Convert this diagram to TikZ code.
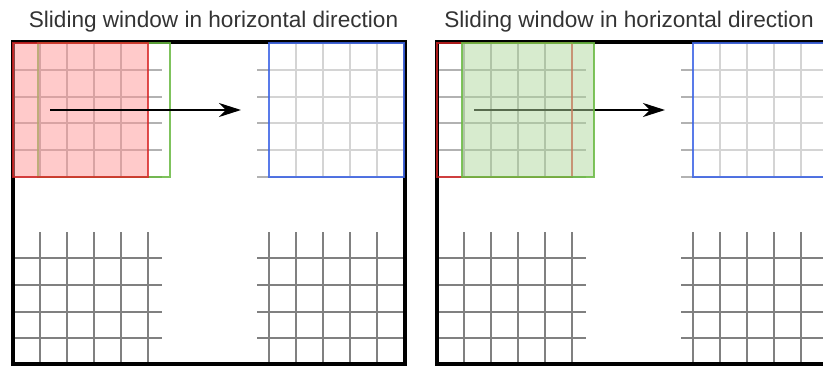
\documentclass[tikz,border=0pt]{standalone}
\usepackage{fontspec}
\setmainfont{Liberation Sans}
\usetikzlibrary{arrows.meta}
\definecolor{winred}{RGB}{215,35,35}
\definecolor{redtint}{RGB}{255,150,150}
\definecolor{wingreen}{RGB}{105,185,65}
\definecolor{greentint}{RGB}{176,215,157}
\definecolor{winblue}{RGB}{60,100,230}
\begin{document}
\begin{tikzpicture}[x=1pt,y=-1pt,
    frame/.style={line width=3.5pt},
    lightgrid/.style={black!30,line width=1.5pt},
    darkgrid/.style={black!50,line width=1.8pt},
    redwin/.style={draw=winred,draw opacity=0.8,line width=2.5pt},
    greenwin/.style={draw=wingreen,draw opacity=0.85,line width=2.5pt},
    bluewin/.style={draw=winblue,draw opacity=0.85,line width=2.5pt,fill=white,fill opacity=0.45},
    slide/.style={line width=2.2pt,-{Stealth[length=22pt,width=14pt,inset=7pt]}},
    title/.style={anchor=base,font=\fontsize{22.6}{26}\selectfont,text=black!80}]
    \useasboundingbox (0,0) rectangle (823,367);
    \clip (0,0) rectangle (823,367);

    \node[title] (ltitle) at (213.5,27) {Sliding window in horizontal direction};
    \node[title] (rtitle) at (629,27)   {Sliding window in horizontal direction};

    \foreach \dx in {0,424} {
      \begin{scope}[xshift=\dx pt]
        % top rows
        \foreach \y in {70,97,123,150,177} {
          \draw[lightgrid] (13,\y) -- (162,\y);
          \draw[lightgrid] (257,\y) -- (405,\y);
        }
        \foreach \x in {40,67,94,121,296,323,350,377}
          \draw[lightgrid] (\x,42) -- (\x,177);
        % bottom rows
        \foreach \y in {258,285,312,338} {
          \draw[darkgrid] (13,\y) -- (162,\y);
          \draw[darkgrid] (257,\y) -- (405,\y);
        }
        \foreach \x in {40,67,94,121,148,269,296,323,350,377}
          \draw[darkgrid] (\x,232) -- (\x,364);
        \draw[frame] (13,42) rectangle (405,364);
        \draw[bluewin] (269,43) rectangle (404,177);
        \coordinate (from\dx) at (50,110);
        \coordinate (to\dx) at (241,110);
      \end{scope}
    }

    % left: red window, next position in green
    \draw[greenwin] (38,43) rectangle (170,177);
    \draw[redwin,fill=redtint,fill opacity=0.5] (13,43) rectangle (148,177);
    \draw[slide] (from0) -- (to0);
    % right: window moved one step
    \draw[slide] (from424) -- (to424);
    \draw[redwin] (437,43) rectangle (572,177);
    \draw[greenwin,fill=greentint,fill opacity=0.5] (462,43) rectangle (594,177);
\end{tikzpicture}
\end{document}
